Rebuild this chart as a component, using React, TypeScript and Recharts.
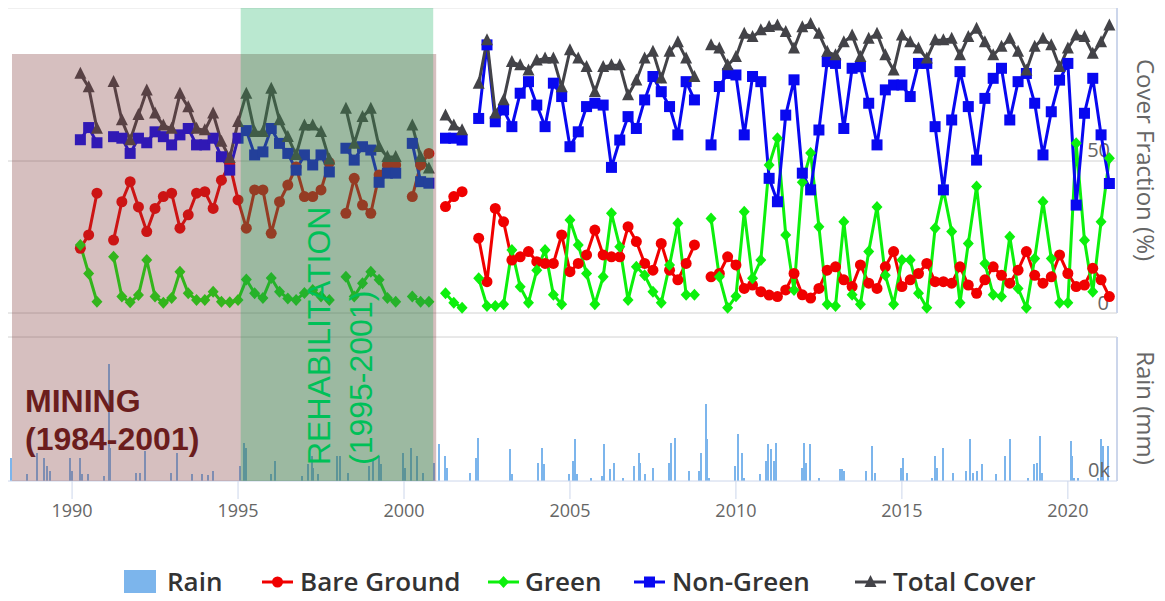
import React from 'react';
import { ComposedChart, Line, Bar, XAxis, YAxis, ReferenceArea, ReferenceLine } from 'recharts';

// quarterly cover fractions (%), first sample 1990 Q2, null = missing scene
const firstQuarter = 1990.25;

const bareGround = [
  21.3, 25.7, 39.4, null, 24, 36.6, 43.2, 34.9, 26.8, 34.4, 38.3, 39.4, 27.9, 32.3, 39.4, 39.9,
  34.4, 43.7, 49, 37.2, 27.9, 40.5, 40.5, 26.2, 36.6, 42.1, 48, 38.3, 38.3, 40.5, 49.5, null,
  32.8, 44.3, 35.5, 32.8, 45.4, 48.7, 48.7, null, 38.3, 48.7, 52.5, null, 35, 38.3, 39.9, null,
  24.6, 10.3, 34.4, 30, 17.4, 18.5, 20.2, 16.9, 16.3, 16.3, 25.7, 13.6, 16.3, 19.1, 27.3, 19.1,
  18.5, 18.5, 28.4, 23.5, 16.3, 14.1, 22.9, 14.1, 10.9, 16.3, 22.4, null, 11.9, 13, 18.5, 15.8,
  8.1, 9.2, 7, 5.9, 5.4, 7.6, 13, 6, 4.9, 8.1, 14.1, 15.2, 10.9, 8.7, 15.8, 9.8,
  8.1, 15.2, 20.2, 8.7, 10.9, 13, 16.3, 10.3, 10.3, 9.8, 15.2, 9.2, 6.5, 10.9, 15.2, 12.4,
  9.8, 14.1, 20.2, 12.4, 9.8, 11.9, 19.1, 13, 8.7, 9.2, 14.7, 10.9, 5.4,
];

const green = [
  22.4, 13, 3.7, null, 18.5, 5.4, 3.5, 5.9, 17.4, 5.4, 3.4, 4.9, 13.6, 6.5, 4.3, 4.3,
  7, 3.7, 3.5, 4.3, 11, 6.5, 4.9, 11.5, 7, 4.8, 4.3, 6.6, 7.6, 5.4, 4.3, null,
  11.9, 5.4, 9.8, 13.6, 10.9, 4.9, 3.7, null, 5.4, 3.7, 3.7, null, 6.5, 3.4, 1.7, null,
  11.4, 2.3, 2.3, 2.9, 20.7, 8.6, 3.4, 14.1, 20.7, 6, 2.9, 30.6, 22.4, 13, 2.9, 11.9,
  32.8, 21.8, 4.3, 15.2, 12.4, 7, 3.4, 15.8, 29.5, 6, 6, null, 31.1, 11.9, 1.7, 5.5,
  33.3, 11.4, 17.4, 48.7, 57.5, 25.7, 7.6, 43, 52.6, 28.4, 2.9, 2.3, 30, 6, 2.9, 20.2,
  34.9, 12.4, 2.9, 17.4, 17.4, 6.5, 1.7, 27.9, 40.5, 26.8, 3.4, 22.9, 41.6, 16.3, 6, 5.4,
  25.1, 8.1, 1.7, 17.9, 36.6, 17.9, 3.4, 3.4, 55.8, 23.9, 7, 30, 50.9,
];

const nonGreen = [
  57, 61, 56, null, 58, 57.5, 52.5, 57.5, 56, 59.6, 58, 55.3, 58.6, 60.7, 55.3, 55.3,
  57.5, 51.4, 47, 57.5, 60, 52, 53, 60.7, 55.8, 52.5, 47, 52, 48.7, 52, 46.4, null,
  54.2, 50.3, 54.7, 53.6, 43, 46, 46, null, 55.8, 43.2, 42.7, null, 57.5, 57.5, 56.9, null,
  64, 88.2, 62.9, 66.8, 61.3, 72.3, 76.1, 68.4, 61.3, 75.6, 71.2, 54.7, 59.6, 67.9, 69, 68.4,
  47.9, 56.9, 64.6, 60.7, 70.1, 77.8, 72.8, 67.9, 58.6, 76.1, 70.1, null, 55.3, 74.5, 78.8, 78.3,
  58.6, 77.8, 76.1, 44.3, 36.6, 65.1, 76.7, 46, 40.5, 60.2, 82.7, 82.1, 60.7, 80.5, 81, 69,
  55.3, 73.4, 75, 75, 71.2, 82.1, 82.1, 61.3, 40.5, 63.5, 79.4, 67.9, 50.3, 70.6, 77.2, 80.5,
  63.5, 76.1, 78.8, 69, 52, 66.2, 76.6, 82.1, 35.5, 65.7, 77.2, 58.6, 42.6,
];

const totalCover = [
  78.7, 74.3, 60.6, null, 76, 63.4, 56.8, 65.1, 73.2, 65.6, 61.7, 60.6, 72.1, 67.7, 60.6, 60.1,
  65.6, 56.3, 51, 62.8, 72.1, 59.5, 59.5, 73.8, 63.4, 57.9, 52, 61.7, 61.7, 59.5, 50.5, null,
  67.2, 55.7, 64.5, 67.2, 54.6, 51.3, 51.3, null, 61.7, 51.3, 47.5, null, 65, 61.7, 60.1, null,
  75.4, 89.7, 65.6, 70, 82.6, 81.5, 79.8, 83.1, 83.7, 83.7, 74.3, 86.4, 83.7, 80.9, 72.7, 80.9,
  81.5, 81.5, 71.6, 76.5, 83.7, 85.9, 77.1, 85.9, 89.1, 83.7, 77.6, null, 88.1, 87, 81.5, 84.2,
  91.9, 90.8, 93, 94.1, 94.6, 92.4, 87, 94, 95.1, 91.9, 85.9, 84.8, 89.1, 91.3, 84.2, 90.2,
  91.9, 84.8, 79.8, 91.3, 89.1, 87, 83.7, 89.7, 89.7, 90.2, 84.8, 90.8, 93.5, 89.1, 84.8, 87.6,
  90.2, 85.9, 79.8, 87.6, 90.2, 88.1, 80.9, 87, 91.3, 90.8, 85.3, 89.1, 94.6,
];

// rain events (decimal year) and depth (mm)
const rainDates = [
  1988.16, 1988.64, 1988.95, 1989.14, 1989.25, 1989.33, 1989.94, 1990.0, 1990.24, 1990.3, 1990.47, 1990.96,
  1991.11, 1991.15, 1991.94, 1992.05, 1992.2, 1992.98, 1993.15, 1993.6, 1993.9, 1994.1, 1994.26,
  1995.06, 1995.17, 1995.25, 1996.0, 1996.1, 1996.93, 1997.1, 1997.23, 1997.27, 1997.4, 1997.98,
  1998.08, 1998.32, 1998.95, 1999.07, 1999.24, 1999.3, 1999.96, 2000.04, 2000.2, 2000.38, 2000.57,
  2000.9, 2001.04, 2001.23, 2001.3, 2002.0, 2002.16, 2002.23, 2003.18, 2003.25, 2004.05, 2004.16,
  2004.22, 2004.97, 2005.09, 2005.15, 2005.2, 2005.63, 2005.96, 2006.02, 2006.2, 2006.33, 2006.6,
  2006.93, 2007.08, 2007.12, 2007.26, 2007.5, 2007.98, 2008.05, 2008.17, 2008.6, 2008.9, 2008.96,
  2009.09, 2009.14, 2009.2, 2009.97, 2010.06, 2010.17, 2010.25, 2010.72, 2010.92, 2010.97, 2011.07,
  2011.15, 2011.2, 2012.0, 2012.05, 2012.1, 2012.24, 2012.5, 2013.15, 2013.2, 2013.25, 2013.93,
  2014.11, 2014.2, 2014.97, 2015.03, 2015.15, 2015.92, 2016.0, 2016.07, 2016.24, 2016.54, 2016.93,
  2017.05, 2017.15, 2017.25, 2017.4, 2017.83, 2018.1, 2018.25, 2018.8, 2018.99, 2019.08, 2019.16,
  2019.22, 2020.08, 2020.12, 2020.2, 2020.3, 2020.9, 2020.99, 2021.06, 2021.2,
];
const rainMm = [
  69, 21, 84, 69, 45, 30, 69, 30, 69, 21, 21, 15,
  351, 99, 24, 24, 90, 24, 84, 21, 21, 18, 30,
  45, 114, 99, 21, 60, 15, 51, 75, 39, 21, 75,
  75, 24, 45, 66, 75, 51, 84, 39, 99, 75, 24,
  54, 111, 75, 39, 24, 69, 129, 96, 21, 54, 99,
  51, 21, 60, 126, 21, 9, 15, 111, 36, 54, 9,
  45, 84, 54, 21, 39, 54, 114, 129, 30, 30, 84,
  231, 126, 9, 45, 141, 84, 9, 21, 60, 111, 96,
  60, 114, 39, 114, 54, 111, 9, 36, 36, 30, 30,
  105, 24, 39, 69, 24, 9, 75, 39, 99, 24, 30,
  126, 24, 30, 51, 21, 75, 126, 9, 51, 54, 135,
  24, 120, 75, 9, 9, 9, 126, 105, 105,
];

const yearTicks = [1990, 1995, 2000, 2005, 2010, 2015, 2020];

const X_DOMAIN: [number, number] = [1988.07, 2021.48];
const COVER_DOMAIN: [number, number] = [-55.26, 100.33];
const RAIN_DOMAIN: [number, number] = [0, 1419];
const RAIN_PANEL_TOP = 432;
const MINING: [number, number] = [1988.19, 2000.97];
const MINING_TOP = 85.2;
const REHAB: [number, number] = [1995.08, 2000.88];

const rainData = rainDates.map((t, i) => ({ t, rain: rainMm[i] }));
const toSeries = (vals: (number | null)[]) => vals.map((v, i) => ({ t: firstQuarter + i / 4, v }));

const C_BARE = '#f00000';
const C_GREEN = '#0cf00c';
const C_NON = '#0808f0';
const C_TOTAL = '#434348';
const C_RAIN = '#7cb5ec';
const GRID = '#d2d2d2';
const AXIS = '#ccd6eb';
const FONT = '"Open Sans", sans-serif';

type Shape = 'circle' | 'diamond' | 'square' | 'triangle';

function drawMarker(shape: Shape, color: string, cx: number, cy: number, key: string) {
  if (shape === 'circle') return <circle key={key} cx={cx} cy={cy} r={5.5} fill={color} />;
  if (shape === 'diamond')
    return <path key={key} d={`M${cx},${cy - 6}L${cx + 5.5},${cy}L${cx},${cy + 6}L${cx - 5.5},${cy}Z`} fill={color} />;
  if (shape === 'square') return <rect key={key} x={cx - 5.5} y={cy - 5.5} width={11} height={11} fill={color} />;
  return <path key={key} d={`M${cx},${cy - 7}L${cx + 6},${cy + 5}L${cx - 6},${cy + 5}Z`} fill={color} />;
}

const makeDot = (shape: Shape, color: string) => (p: any) => {
  const key = `${shape}-${p.index}`;
  if (p.value == null || p.cx == null || p.cy == null || Number.isNaN(p.cy)) return <g key={key} />;
  return drawMarker(shape, color, p.cx, p.cy, key);
};

// thin crisp spike centred on the event date
const RainSpike = (p: any) => {
  if (p.height == null || p.x == null) return <g />;
  const cx = Math.round(p.x + p.width / 2);
  return <rect x={cx - 1} y={p.y} width={2} height={p.height} fill={C_RAIN} />;
};

const cornerLabel = (text: string, dx: number, dy: number) => (props: any) => {
  const vb = props.viewBox;
  return (
    <text x={vb.x + vb.width - dx} y={vb.y - dy} textAnchor="end" fill="#666" fontSize={20} fontFamily={FONT}>
      {text}
    </text>
  );
};

const series: { name: string; data: (number | null)[]; color: string; shape: Shape }[] = [
  { name: 'Bare Ground', data: bareGround, color: C_BARE, shape: 'circle' },
  { name: 'Green', data: green, color: C_GREEN, shape: 'diamond' },
  { name: 'Non-Green', data: nonGreen, color: C_NON, shape: 'square' },
  { name: 'Total Cover', data: totalCover, color: C_TOTAL, shape: 'triangle' },
];

const legendItems = [
  { name: 'Rain', x: 167 },
  { name: 'Bare Ground', x: 300 },
  { name: 'Green', x: 525 },
  { name: 'Non-Green', x: 672 },
  { name: 'Total Cover', x: 893 },
];

export default function App() {
  return (
    <div style={{ position: 'relative', width: 1149, height: 585, fontFamily: FONT }}>
      <ComposedChart width={1149} height={585} data={rainData} margin={{ top: 0, right: 40, bottom: 72, left: 0 }}>
        <XAxis
          dataKey="t"
          type="number"
          scale="linear"
          domain={X_DOMAIN}
          allowDataOverflow
          ticks={yearTicks}
          height={40}
          stroke={AXIS}
          tickSize={18}
          tickMargin={5}
          tick={{ fill: '#666', fontSize: 18, fontFamily: FONT }}
        />
        <YAxis yAxisId="cover" hide domain={COVER_DOMAIN} allowDataOverflow />
        <YAxis yAxisId="rain" hide domain={RAIN_DOMAIN} allowDataOverflow />

        <ReferenceLine yAxisId="cover" y={COVER_DOMAIN[1]} stroke="#e2e2e2" />
        <ReferenceLine yAxisId="cover" y={50} stroke={GRID} label={cornerLabel('50', 7, 4)} />
        <ReferenceLine yAxisId="cover" y={0} stroke={GRID} label={cornerLabel('0', 8, 3)} />
        <ReferenceLine yAxisId="rain" y={RAIN_PANEL_TOP} stroke={GRID} />
        <ReferenceLine yAxisId="rain" y={0} stroke="none" label={cornerLabel('0k', 7, 4)} />
        <ReferenceLine
          yAxisId="cover"
          segment={[{ x: X_DOMAIN[1], y: 0 }, { x: X_DOMAIN[1], y: COVER_DOMAIN[1] }]}
          stroke={AXIS}
          strokeWidth={2}
        />
        <ReferenceLine
          yAxisId="rain"
          segment={[{ x: X_DOMAIN[1], y: 0 }, { x: X_DOMAIN[1], y: RAIN_PANEL_TOP }]}
          stroke={AXIS}
          strokeWidth={2}
        />

        <Bar yAxisId="rain" dataKey="rain" name="Rain" fill={C_RAIN} barSize={2} shape={RainSpike} isAnimationActive={false} />

        {series.map((s) => (
          <Line
            key={s.name}
            yAxisId="cover"
            data={toSeries(s.data)}
            dataKey="v"
            name={s.name}
            type="linear"
            stroke={s.color}
            strokeWidth={3}
            connectNulls={false}
            dot={makeDot(s.shape, s.color)}
            activeDot={false}
            isAnimationActive={false}
          />
        ))}

        <ReferenceArea
          yAxisId="cover"
          x1={MINING[0]}
          x2={MINING[1]}
          y1={COVER_DOMAIN[0]}
          y2={MINING_TOP}
          fill="rgb(130,60,60)"
          fillOpacity={0.33}
          stroke="none"
          zIndex={1600}
        />
        <ReferenceArea
          yAxisId="cover"
          x1={REHAB[0]}
          x2={REHAB[1]}
          y1={COVER_DOMAIN[0]}
          y2={COVER_DOMAIN[1]}
          fill="rgb(0,170,80)"
          fillOpacity={0.27}
          stroke="none"
          zIndex={1700}
        />
      </ComposedChart>

      <svg
        width={1165}
        height={601}
        style={{ position: 'absolute', left: -8, top: -8, pointerEvents: 'none' }}
      >
        <text transform="translate(1146,160) rotate(90)" textAnchor="middle" dominantBaseline="central" fill="#666" fontSize={24} fontFamily={FONT}>
          Cover Fraction (%)
        </text>
        <text transform="translate(1146,408) rotate(90)" textAnchor="middle" dominantBaseline="central" fill="#666" fontSize={24} fontFamily={FONT}>
          Rain (mm)
        </text>

        <text x={25} y={412} fill="#6b1d1d" fontSize={32} fontWeight="bold" fontFamily='"Liberation Sans", Arial, sans-serif'>
          MINING
        </text>
        <text x={25} y={450} fill="#6b1d1d" fontSize={32} fontWeight="bold" fontFamily='"Liberation Sans", Arial, sans-serif'>
          (1984-2001)
        </text>
        <text transform="translate(330,465) rotate(-90)" fill="#00c058" fontSize={32} fontFamily='"Liberation Sans", Arial, sans-serif'>
          REHABILITATION
        </text>
        <text transform="translate(372,465) rotate(-90)" fill="#00c058" fontSize={32} fontFamily='"Liberation Sans", Arial, sans-serif'>
          (1995-2001)
        </text>

        <rect x={124} y={570} width={32} height={24} fill={C_RAIN} />
        {series.map((s, i) => {
          const x0 = [262, 488, 634, 855][i];
          return (
            <g key={s.name}>
              <line x1={x0} x2={x0 + 31} y1={582} y2={582} stroke={s.color} strokeWidth={3} />
              {drawMarker(s.shape, s.color, x0 + 15.5, 582, `lg-${i}`)}
            </g>
          );
        })}
        {legendItems.map((l) => (
          <text key={l.name} x={l.x} y={591} fill="#333" fontSize={26} fontWeight={600} fontFamily={FONT}>
            {l.name}
          </text>
        ))}
      </svg>
    </div>
  );
}
